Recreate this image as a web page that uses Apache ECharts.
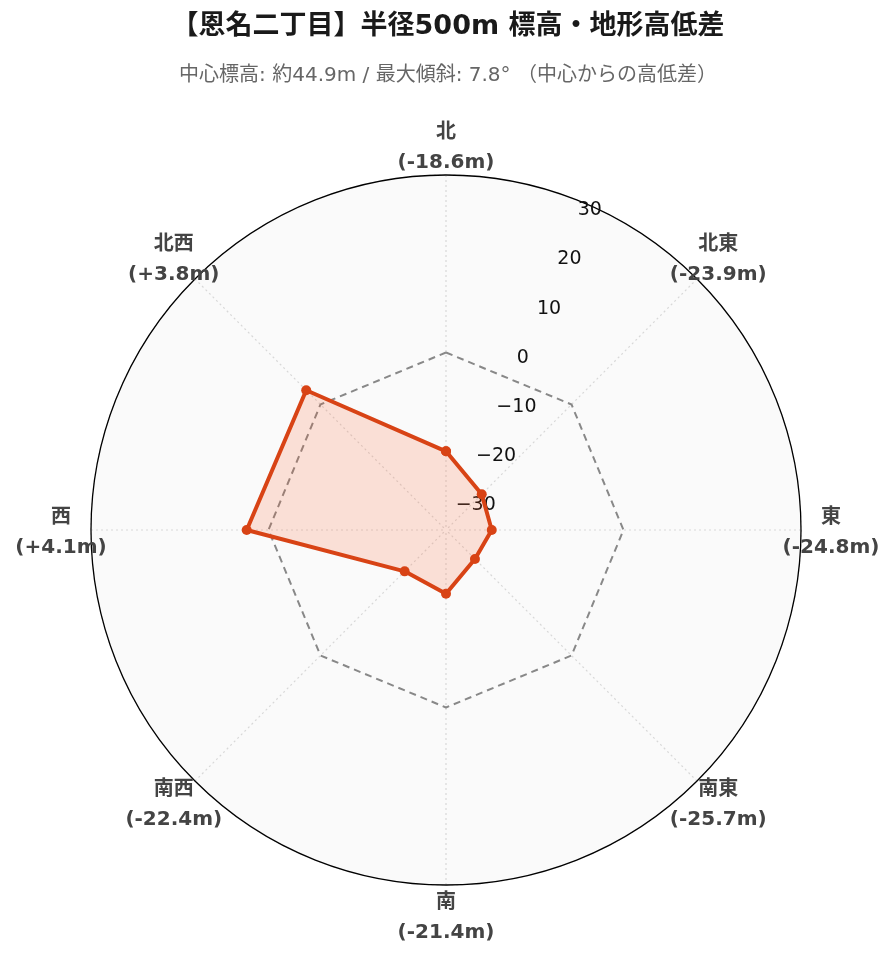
<!DOCTYPE html>
<html lang="ja">
<head>
<meta charset="utf-8">
<title>恩名二丁目 標高・地形高低差</title>
<script src="https://cdn.jsdelivr.net/npm/echarts@6.0.0/dist/echarts.min.js"></script>
<style>
    html, body { margin: 0; padding: 0; background: #ffffff; }
    #chart-elev { width: 896px; height: 962px; }
</style>
</head>
<body>
<div id="chart-elev"></div>
<script>
// ----------------------------- データ定義 -----------------------------
// 方位（北から時計回り）
const directions = ['北', '北東', '東', '南東', '南', '南西', '西', '北西'];
// 方位角（度）
const dirAngles = [0, 45, 90, 135, 180, 225, 270, 315];
// 中心からの高低差 (m)
const elevDiff = [-18.6, -23.9, -24.8, -25.7, -21.4, -22.4, 4.1, 3.8];
// 基準線（中心標高 = 0）
const baseLine = [0, 0, 0, 0, 0, 0, 0, 0];
// 半径軸の範囲
const radialMin = -33.41;
const radialMax = 33.41;

const titleText = '【恩名二丁目】半径500m 標高・地形高低差';
const subText = '中心標高: 約44.9m / 最大傾斜: 7.8° （中心からの高低差）';

// ----------------------------- 共通設定 -----------------------------
const FONT = '"DejaVu Sans", "Noto Sans CJK JP", sans-serif';
const CENTER = [446, 530];
const RADIUS = 355;

// 多角形を閉じるため、先頭の点を 360° として末尾に追加
function closedRing(values) {
    const pts = values.map((v, i) => [v, dirAngles[i]]);
    pts.push([values[0], 360]);
    return pts;
}

function fmtDiff(v) {
    return '(' + (v > 0 ? '+' : '') + v.toFixed(1) + 'm)';
}

function initElevChart() {
    const container = document.getElementById('chart-elev');
    const chart = echarts.init(container, null, { renderer: 'canvas' });

    const hiddenAngle = (startAngle) => ({
        type: 'value',
        min: 0,
        max: 360,
        startAngle: startAngle,
        clockwise: true,
        axisLine: { show: false },
        axisTick: { show: false },
        axisLabel: { show: false },
        splitLine: { show: false }
    });

    const option = {
        backgroundColor: '#ffffff',
        animation: false,
        title: {
            text: titleText,
            subtext: subText,
            left: 'center',
            top: 11,
            padding: 0,
            itemGap: 21,
            textStyle: {
                fontFamily: FONT,
                fontSize: 27,
                fontWeight: 'bold',
                color: '#1a1a1a',
                lineHeight: 32
            },
            subtextStyle: {
                fontFamily: FONT,
                fontSize: 20,
                color: '#666666',
                lineHeight: 24
            }
        },
        polar: [
            { center: CENTER, radius: RADIUS },            // 0: グリッド・データ
            { center: CENTER, radius: RADIUS },            // 1: 半径軸ラベル（22.5°傾け）
            { center: [446, 532.5], radius: 385 }          // 2: 方位ラベル
        ],
        angleAxis: [
            {
                polarIndex: 0,
                type: 'value',
                min: 0,
                max: 360,
                interval: 45,
                startAngle: 90,
                clockwise: true,
                axisLine: { show: true, lineStyle: { color: '#000000', width: 1.3 } },
                axisTick: { show: false },
                axisLabel: { show: false },
                splitLine: { show: true, lineStyle: { color: '#d8d8d8', type: [2, 3], width: 1.2 } }
            },
            Object.assign({ polarIndex: 1 }, hiddenAngle(67.5)),
            Object.assign({ polarIndex: 2 }, hiddenAngle(90))
        ],
        radiusAxis: [
            {
                polarIndex: 0,
                type: 'value',
                min: radialMin,
                max: radialMax,
                splitNumber: 6,
                axisLine: { show: false },
                axisTick: { show: false },
                axisLabel: { show: false },
                splitLine: { show: true, lineStyle: { color: '#d8d8d8', type: [2, 3], width: 1.2 } },
                splitArea: { show: true, areaStyle: { color: ['#fafafa'] } }
            },
            {
                polarIndex: 1,
                type: 'value',
                min: radialMin,
                max: radialMax,
                splitNumber: 6,
                axisLine: { show: false },
                axisTick: { show: false },
                splitLine: { show: false },
                axisLabel: {
                    show: true,
                    inside: true,
                    showMinLabel: false,
                    showMaxLabel: false,
                    fontFamily: FONT,
                    fontSize: 19,
                    color: '#111111',
                    margin: -3,
                    align: 'left',
                    verticalAlign: 'bottom',
                    formatter: v => String(v).replace('-', '\u2212')
                }
            },
            {
                polarIndex: 2,
                type: 'value',
                min: 0,
                max: 1,
                show: false
            }
        ],
        series: [
            {
                name: '基準 (0m)',
                type: 'line',
                coordinateSystem: 'polar',
                polarIndex: 0,
                data: closedRing(baseLine),
                symbol: 'none',
                lineStyle: { color: '#888888', width: 2, type: [7, 5] },
                z: 3
            },
            {
                name: '高低差',
                type: 'line',
                coordinateSystem: 'polar',
                polarIndex: 0,
                data: closedRing(elevDiff),
                symbol: 'circle',
                symbolSize: 10,
                itemStyle: { color: '#d84315' },
                lineStyle: { color: '#d84315', width: 4 },
                areaStyle: { color: 'rgba(255,87,34,0.16)', opacity: 1, origin: 'start' },
                z: 4
            },
            {
                name: '方位',
                type: 'scatter',
                coordinateSystem: 'polar',
                polarIndex: 2,
                clip: false,
                symbolSize: 1,
                itemStyle: { color: 'rgba(0,0,0,0)', opacity: 1 },
                data: directions.map((d, i) => [1, dirAngles[i]]),
                label: {
                    show: true,
                    position: 'inside',
                    formatter: p => '{d|' + directions[p.dataIndex] + '}\n{v|' + fmtDiff(elevDiff[p.dataIndex]) + '}',
                    rich: {
                        d: { fontFamily: FONT, fontSize: 20, fontWeight: 'bold', color: '#444444', lineHeight: 30, align: 'center' },
                        v: { fontFamily: FONT, fontSize: 20, fontWeight: 'bold', color: '#444444', lineHeight: 30, align: 'center' }
                    }
                },
                z: 5
            }
        ]
    };

    chart.setOption(option);
}

initElevChart();
</script>
</body>
</html>
